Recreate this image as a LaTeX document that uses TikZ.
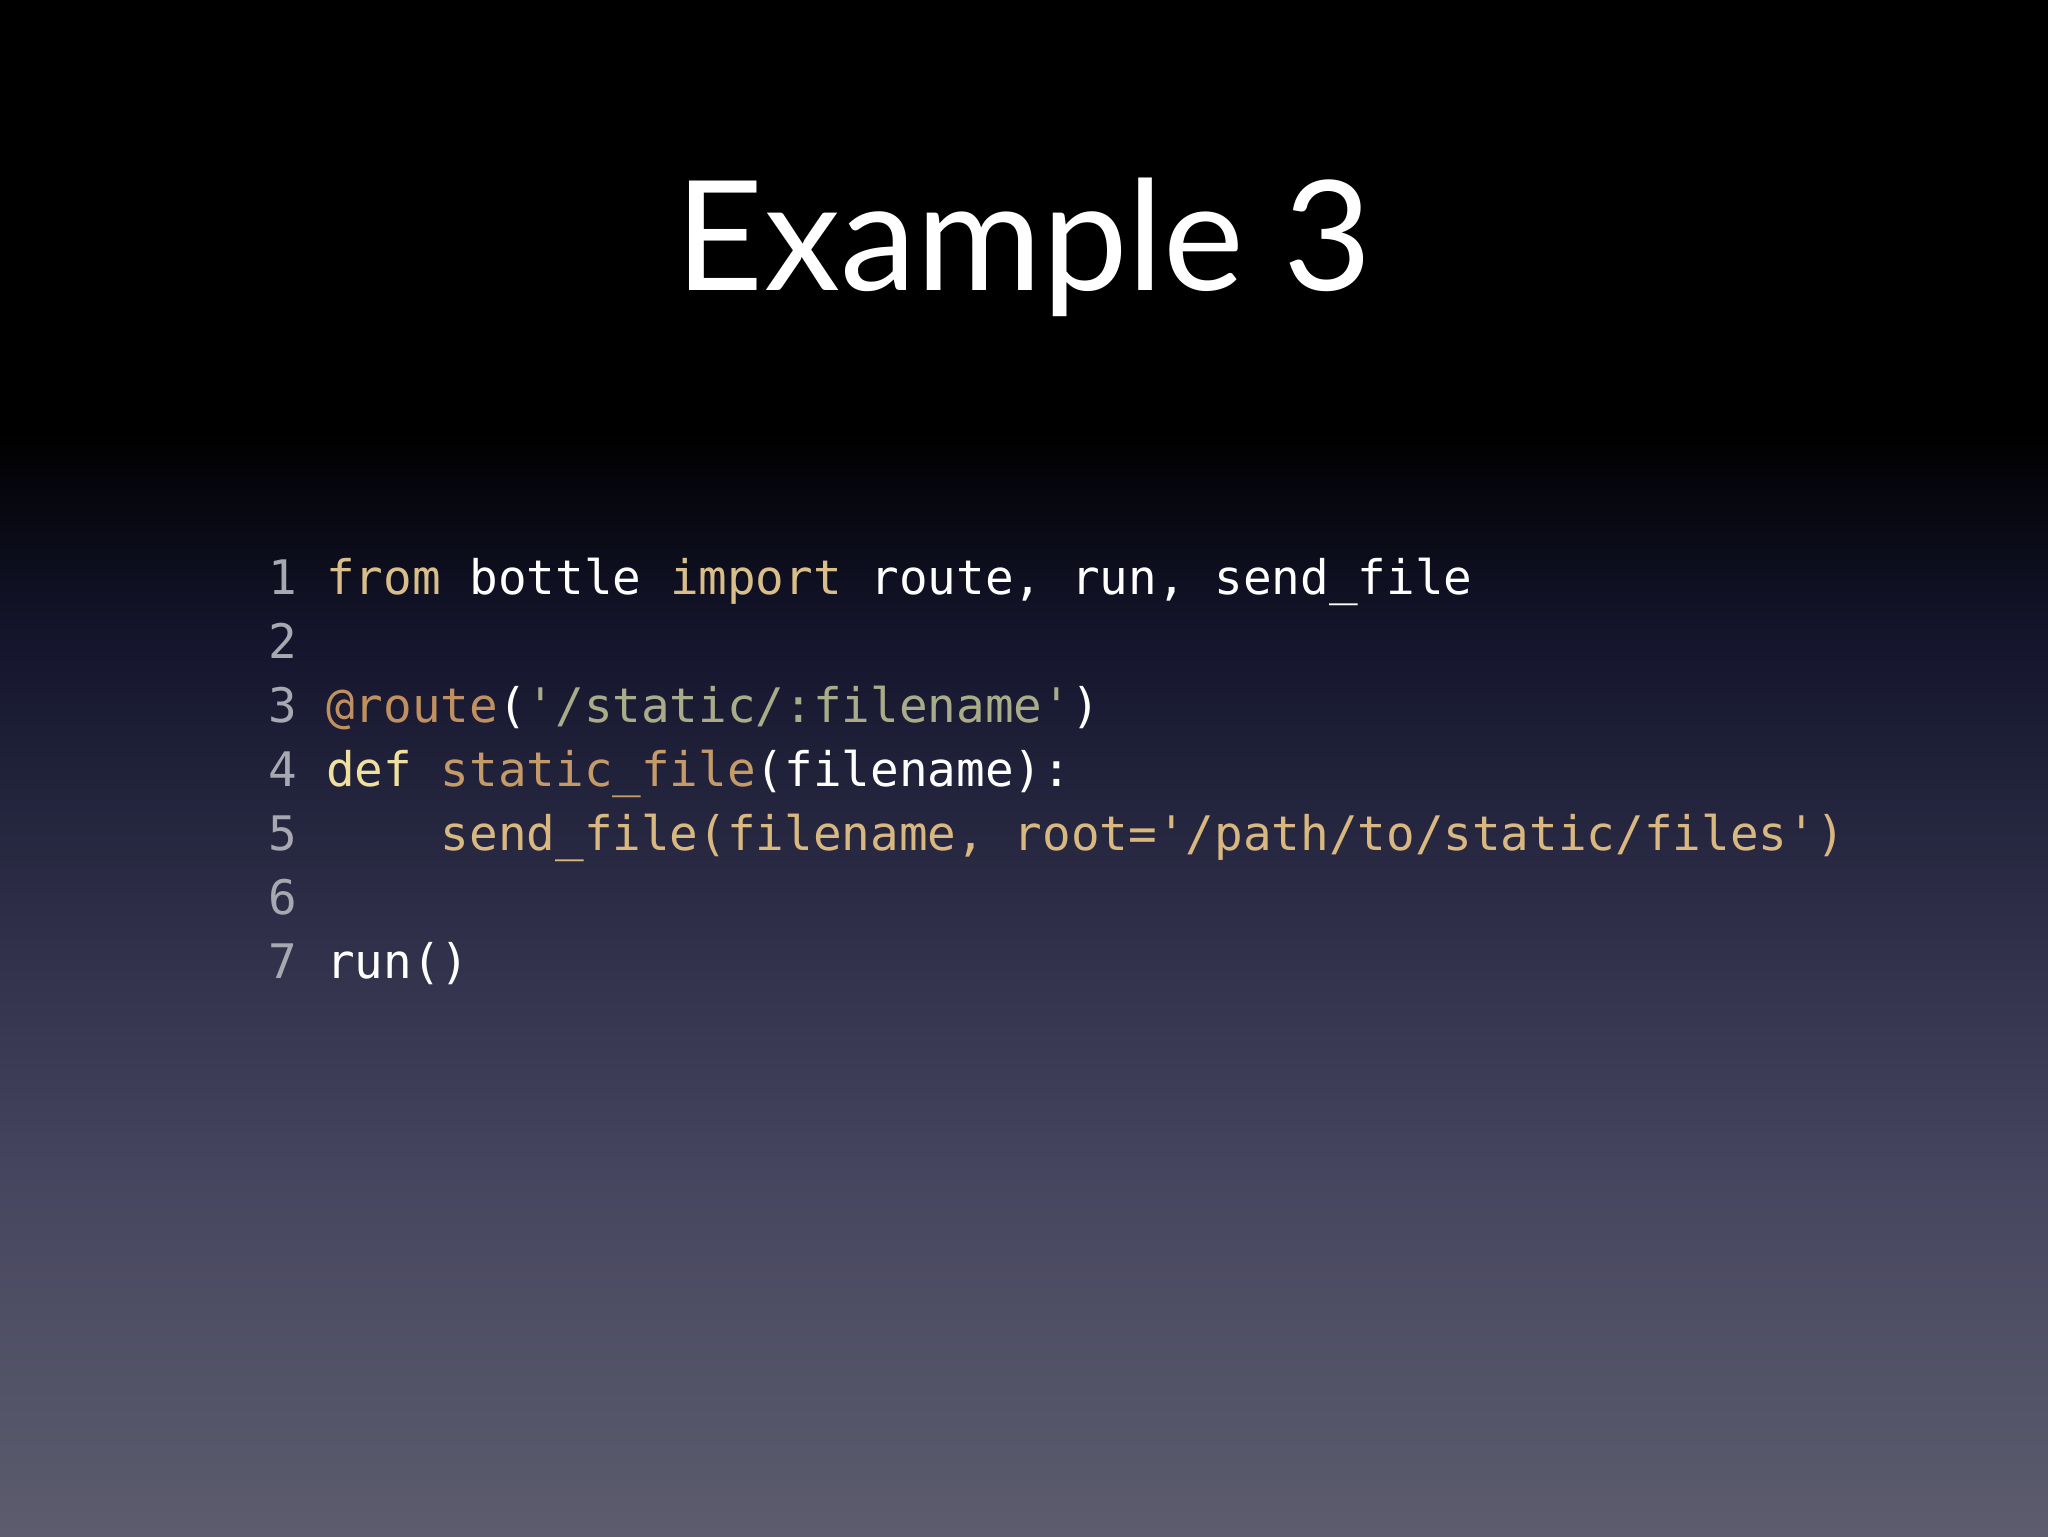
\documentclass[tikz,border=0pt]{standalone}
\usepackage{fontspec}
\setmainfont{Lato}
\newfontfamily\codefont{DejaVu Sans Mono}
\definecolor{c0}{HTML}{5C5C6D}
\definecolor{c1}{HTML}{474660}
\definecolor{c2}{HTML}{2E2E48}
\definecolor{c3}{HTML}{15162E}
\definecolor{kw}{HTML}{D9BE8A}
\definecolor{dec}{HTML}{C09060}
\definecolor{str}{HTML}{A8AC88}
\definecolor{df}{HTML}{F0E0A0}
\definecolor{fn}{HTML}{C49A68}
\definecolor{sf}{HTML}{D8B880}
\definecolor{num}{HTML}{A8A8B0}
\pgfdeclareverticalshading{bgshade}{100bp}{color(0bp)=(c0); color(25bp)=(c0); color(36.5bp)=(c1); color(45bp)=(c2); color(54bp)=(c3); color(61bp)=(black); color(100bp)=(black)}
\begin{document}
\begin{tikzpicture}[x=0.25pt,y=-0.25pt,
  codeline/.style={anchor=base west,inner sep=0pt,text=white,font=\codefont\fontsize{11.9}{16}\selectfont}]
\useasboundingbox (0,0) rectangle (2048,1536);
\shade[shading=bgshade] (0,0) rectangle (2048,1536);
\node[anchor=base,text=white,inner sep=0pt,font=\fontsize{38.2}{46}\selectfont] (title) at (1024,290) {Example 3};
\node[codeline] (l1) at (268,594) {\textcolor{num}{1} \textcolor{kw}{from} bottle \textcolor{kw}{import} route, run, send\_file};
\node[codeline] (l2) at (268,658) {\textcolor{num}{2}};
\node[codeline] (l3) at (268,722) {\textcolor{num}{3} \textcolor{dec}{@route}(\textcolor{str}{'/static/:filename'})};
\node[codeline] (l4) at (268,786) {\textcolor{num}{4} \textcolor{df}{def} \textcolor{fn}{static\_file}(filename):};
\node[codeline] (l5) at (268,850) {\textcolor{num}{5}\ \ \ \ \ \textcolor{sf}{send\_file(filename, root='/path/to/static/files')}};
\node[codeline] (l6) at (268,914) {\textcolor{num}{6}};
\node[codeline] (l7) at (268,978) {\textcolor{num}{7} run()};
\end{tikzpicture}
\end{document}
